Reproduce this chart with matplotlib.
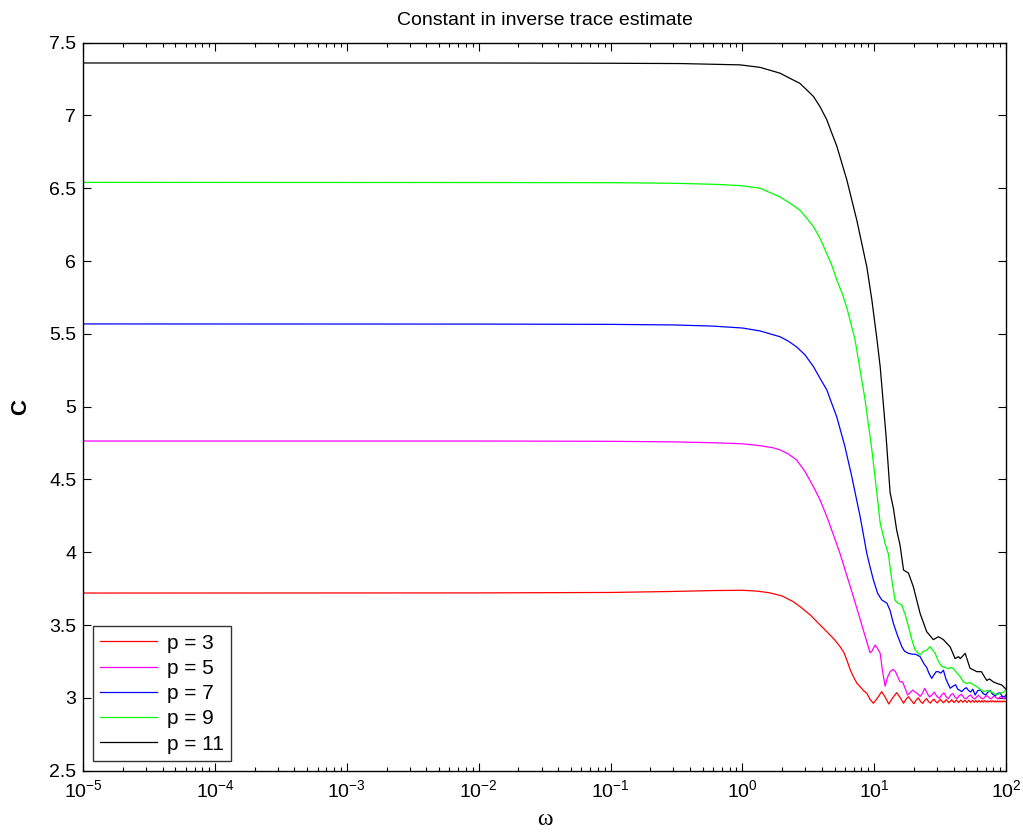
import matplotlib
matplotlib.use("Agg")
import matplotlib.pyplot as plt
from matplotlib.ticker import LogLocator, NullFormatter, FixedLocator

plt.rcParams['font.family'] = ['Liberation Sans', 'DejaVu Sans']
plt.rcParams['mathtext.fontset'] = 'custom'
plt.rcParams['mathtext.rm'] = 'Liberation Sans'
plt.rcParams['mathtext.it'] = 'Liberation Sans:italic'

labels = ["p = 3", "p = 5", "p = 7", "p = 9", "p = 11"]
colors = ["#ff0000", "#ff00ff", "#0000ff", "#00ff00", "#000000"]

w_p3 = [1e-5, 1e-2, 0.1, 0.3, 0.6, 1.0, 1.3, 1.6, 2.0, 2.44, 2.8, 3.27, 3.8, 4.37, 5.0,
        5.51, 5.9, 6.2, 6.6, 6.95, 7.4, 7.82, 8.3, 8.79, 9.3, 9.86, 10.6, 11.4, 12.2,
        12.9, 13.8, 14.8, 15.8, 16.7, 17.4, 18.2, 19.2, 20.0, 20.8, 21.6, 22.5, 23.3,
        24.1, 25.0, 25.8, 26.7, 27.5, 28.4, 29.3, 30.1, 31.0, 31.8, 33.5, 35.2, 36.9,
        38.6, 40.3, 42.0, 43.7, 45.4, 47.1, 48.8, 50.5, 52.2, 53.9, 55.6, 57.3, 59.0,
        60.7, 62.4, 64.1, 65.8, 67.5, 69.2, 70.9, 72.6, 74.3, 76.0, 77.7, 79.4, 81.1,
        82.8, 84.5, 86.2, 87.9, 89.6, 91.3, 93.0, 94.7, 96.4, 98.1, 100.0]
c_p3 = [3.720, 3.721, 3.724, 3.731, 3.737, 3.739, 3.733, 3.722, 3.700, 3.66, 3.62, 3.57,
        3.51, 3.455, 3.40, 3.352, 3.31, 3.26, 3.19, 3.146, 3.10, 3.077, 3.05, 3.032,
        2.99, 2.963, 3.00, 3.043, 3.00, 2.958, 3.00, 3.036, 3.00, 2.963, 2.99, 3.008,
        2.98, 2.960, 2.985, 3.000, 2.975, 2.962, 2.982, 2.995, 2.975, 2.964, 2.98,
        2.992, 2.975, 2.965, 2.98, 2.990, 2.966, 2.988, 2.967, 2.987, 2.968, 2.986,
        2.968, 2.985, 2.969, 2.984, 2.969, 2.983, 2.970, 2.983, 2.970, 2.982, 2.970,
        2.982, 2.971, 2.981, 2.971, 2.981, 2.971, 2.980, 2.972, 2.980, 2.972, 2.980,
        2.972, 2.979, 2.972, 2.979, 2.973, 2.979, 2.973, 2.978, 2.973, 2.978, 2.973,
        2.976]

w_p5 = [1e-5, 1e-2, 0.1, 0.3, 0.6, 1.0, 1.36, 1.7, 1.93, 2.23, 2.58, 2.99, 3.46, 3.88,
        4.37, 4.86, 5.51, 6.2, 6.95, 7.82, 8.56, 9.3, 9.6, 10.15, 10.6, 11.1, 11.5,
        12.1, 12.6, 13.2, 13.9, 14.5, 15.0, 15.7, 16.4, 17.1, 17.9, 18.7, 19.6, 20.4,
        21.3, 22.3, 23.2, 24.2, 25.3, 26.3, 27.4, 28.6, 29.9, 31.2, 32.5, 33.8, 35.0,
        36.5, 38.0, 39.5, 41.0, 42.5, 44.0, 46.0, 48.0, 50.0, 52.0, 54.0, 56.0, 58.0,
        60.0, 62.0, 64.5, 67.0, 69.5, 72.0, 74.5, 77.0, 79.5, 82.0, 84.5, 87.0, 89.5,
        92.0, 94.5, 97.0, 100.0]
c_p5 = [4.764, 4.764, 4.762, 4.758, 4.752, 4.745, 4.732, 4.718, 4.703, 4.675, 4.634,
        4.553, 4.45, 4.36, 4.245, 4.13, 3.99, 3.84, 3.695, 3.54, 3.42, 3.31, 3.32,
        3.363, 3.34, 3.306, 3.20, 3.08, 3.14, 3.18, 3.196, 3.18, 3.15, 3.11, 3.11,
        3.07, 3.02, 3.035, 3.054, 3.04, 3.03, 3.01, 3.03, 3.066, 3.03, 3.006, 3.02,
        3.04, 3.01, 2.997, 3.02, 3.035, 3.01, 2.995, 3.02, 3.03, 3.005, 2.995, 3.015,
        3.025, 3.0, 2.993, 3.012, 3.02, 3.0, 2.992, 3.008, 3.018, 3.0, 2.993, 3.008,
        3.015, 3.0, 2.993, 3.006, 3.012, 3.0, 2.993, 3.005, 3.01, 2.998, 2.993, 3.003]

w_p7 = [1e-5, 1e-2, 0.1, 0.3, 0.6, 1.0, 1.36, 1.93, 2.23, 2.58, 2.99, 3.46, 3.88, 4.37,
        4.76, 5.2, 6.0, 6.76, 7.82, 8.8, 9.3, 9.86, 10.6, 11.4, 12.5, 13.2, 14.0, 15.0,
        16.2, 17.0, 18.2, 19.5, 20.6, 22.3, 24.0, 25.0, 26.0, 27.3, 28.5, 29.5, 30.7,
        32.0, 33.5, 35.0, 37.7, 39.5, 41.5, 43.0, 45.0, 46.1, 48.0, 50.0, 52.0, 54.0,
        56.0, 58.3, 61.0, 64.0, 67.0, 70.0, 73.0, 76.0, 79.0, 83.0, 86.0, 90.0, 94.0,
        97.0, 100.0]
c_p7 = [5.568, 5.567, 5.565, 5.561, 5.553, 5.54, 5.52, 5.48, 5.45, 5.41, 5.355, 5.275,
        5.195, 5.115, 5.023, 4.93, 4.725, 4.52, 4.245, 3.99, 3.90, 3.81, 3.72, 3.673,
        3.65, 3.60, 3.51, 3.43, 3.352, 3.32, 3.306, 3.30, 3.30, 3.283, 3.23, 3.21,
        3.17, 3.134, 3.16, 3.18, 3.18, 3.17, 3.19, 3.13, 3.066, 3.08, 3.09, 3.06, 3.05,
        3.043, 3.06, 3.07, 3.05, 3.04, 3.06, 3.02, 3.05, 3.055, 3.03, 3.02, 3.04, 3.05,
        3.025, 3.015, 3.03, 3.035, 3.01, 3.006, 3.02]

w_p9 = [1e-5, 1e-2, 0.1, 0.3, 0.6, 0.96, 1.36, 1.93, 2.29, 2.73, 3.08, 3.46, 3.88, 4.37,
        4.76, 5.2, 5.7, 6.2, 7.16, 8.53, 9.6, 10.5, 11.1, 12.1, 12.8, 13.6, 14.4, 15.2,
        16.2, 17.2, 18.2, 19.3, 20.4, 22.3, 23.6, 25.2, 26.5, 27.7, 29.0, 30.7, 32.6,
        34.5, 36.6, 38.3, 40.0, 42.5, 44.9, 47.5, 50.0, 53.0, 56.5, 60.1, 63.5, 67.6,
        72.0, 77.0, 81.0, 85.0, 88.5, 92.0, 96.0, 100.0]
c_p9 = [6.540, 6.539, 6.538, 6.534, 6.527, 6.518, 6.50, 6.44, 6.397, 6.35, 6.294, 6.236,
        6.157, 6.05, 5.973, 5.87, 5.78, 5.68, 5.458, 5.046, 4.703, 4.40, 4.20, 4.06,
        3.99, 3.81, 3.67, 3.65, 3.638, 3.57, 3.49, 3.40, 3.33, 3.294, 3.32, 3.33, 3.352,
        3.33, 3.306, 3.25, 3.215, 3.21, 3.20, 3.21, 3.20, 3.17, 3.146, 3.11, 3.10,
        3.105, 3.09, 3.077, 3.06, 3.043, 3.05, 3.043, 3.03, 3.02, 3.03, 3.035, 3.04,
        3.054]

w_p11 = [1e-5, 1e-2, 0.1, 0.34, 0.96, 1.36, 1.93, 2.29, 2.73, 3.08, 3.46, 3.88, 4.37,
         4.76, 5.2, 6.2, 7.38, 8.79, 9.6, 10.5, 11.1, 12.3, 13.2, 14.0, 14.8, 15.7,
         16.7, 18.2, 19.8, 22.3, 25.0, 28.1, 30.7, 33.5, 37.7, 41.1, 43.6, 45.0, 49.0,
         53.3, 60.1, 65.0, 71.4, 75.0, 80.0, 85.1, 93.0, 98.4, 100.0]
c_p11 = [7.360, 7.360, 7.358, 7.356, 7.347, 7.33, 7.29, 7.255, 7.22, 7.175, 7.13, 7.06,
         6.97, 6.88, 6.79, 6.557, 6.28, 5.96, 5.733, 5.46, 5.275, 4.80, 4.41, 4.30,
         4.153, 4.05, 3.878, 3.857, 3.764, 3.58, 3.455, 3.40, 3.42, 3.40, 3.35, 3.27,
         3.283, 3.27, 3.306, 3.204, 3.18, 3.18, 3.12, 3.13, 3.11, 3.10, 3.088, 3.066,
         3.06]

series_w = [w_p3, w_p5, w_p7, w_p9, w_p11]
series_c = [c_p3, c_p5, c_p7, c_p9, c_p11]

fig = plt.figure(figsize=(10.23, 8.35), dpi=100)
ax = fig.add_axes([0.0814, 0.077, 0.902, 0.872])

for w, c, lab, col in zip(series_w, series_c, labels, colors):
    ax.plot(w, c, color=col, lw=0.9, label=lab)

ax.set_xscale('log')
ax.set_xlim(1e-5, 1e2)
ax.set_ylim(2.5, 7.5)
ax.yaxis.set_major_locator(FixedLocator([2.5, 3, 3.5, 4, 4.5, 5, 5.5, 6, 6.5, 7, 7.5]))
ax.set_yticklabels(["2.5", "3", "3.5", "4", "4.5", "5", "5.5", "6", "6.5", "7", "7.5"])
ax.xaxis.set_major_locator(LogLocator(base=10, numticks=20))
ax.xaxis.set_minor_locator(LogLocator(base=10, subs=range(2, 10), numticks=20))
ax.xaxis.set_minor_formatter(NullFormatter())

ax.tick_params(which='both', direction='in', top=True, right=True, labelsize=14, width=0.8)
ax.tick_params(which='major', length=6)
ax.tick_params(which='minor', length=3)
ax.tick_params(axis='x', pad=6)
ax.tick_params(axis='y', pad=5)
for s in ax.spines.values():
    s.set_linewidth(1.0)

ax.set_title("Constant in inverse trace estimate", fontsize=14, pad=13)
ax.set_xlabel("ω", fontsize=17, family=['Liberation Serif', 'DejaVu Serif'], labelpad=6)
ax.set_ylabel("C", fontsize=16, fontweight='bold', labelpad=13)

leg = ax.legend(loc='lower left', bbox_to_anchor=(0.0105, 0.0133), borderaxespad=0,
                fontsize=15, frameon=True, fancybox=False, edgecolor='black',
                handlelength=2.7, labelspacing=0.3, borderpad=0.35, handletextpad=0.5)
leg.get_frame().set_linewidth(1.0)

fig.savefig("out.png", dpi=100)
